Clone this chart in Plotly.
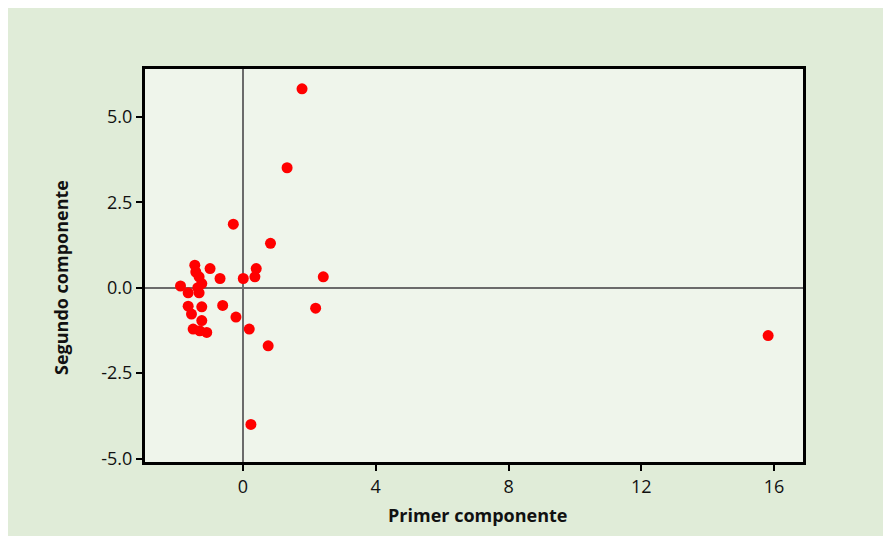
import plotly.graph_objects as go

x_vals = [1.78, 1.33, -0.29, 0.83, -1.45, -0.99, -1.42, -1.32, -0.69, -1.24,
          -1.88, -1.65, -1.32, 0.01, 0.36, 0.40, 2.42, 2.19, -1.65, -1.24,
          -0.61, -1.55, -1.24, -0.21, -1.50, -1.30, -1.09, 0.19, 0.76, 0.24,
          15.82, -1.36]
y_vals = [5.82, 3.51, 1.86, 1.30, 0.66, 0.56, 0.46, 0.32, 0.27, 0.12,
          0.05, -0.15, -0.15, 0.27, 0.32, 0.56, 0.32, -0.60, -0.54, -0.56,
          -0.52, -0.77, -0.96, -0.86, -1.21, -1.26, -1.31, -1.21, -1.70, -4.00,
          -1.40, 0.0]

x_ticks = [0, 4, 8, 12, 16]
y_ticks = [-5.0, -2.5, 0.0, 2.5, 5.0]
x_title = "Primer componente"
y_title = "Segundo componente"

# page body adds an 8px white margin, which matches the white strip of the reference
OFF = 8
W, H = 891 - OFF, 536 - OFF
L, R, T, B = 145 - OFF, 88, 69 - OFF, 74
pw, ph = W - L - R, H - T - B

def px_x(p):
    return (p - OFF - L) / pw

def px_y(p):
    return (H - B - (p - OFF)) / ph

fig = go.Figure()
fig.add_trace(go.Scatter(
    x=x_vals, y=y_vals, mode="markers",
    marker=dict(symbol="circle", size=11, color="#ff0000", line=dict(width=0)),
    showlegend=False, hoverinfo="x+y",
))

fig.update_layout(
    width=W, height=H,
    margin=dict(l=L, r=R, t=T, b=B),
    paper_bgcolor="#e0ecd8",
    plot_bgcolor="#eff5eb",
    font=dict(family="Open Sans", color="#111111"),
    xaxis=dict(
        range=[-2.95, 16.87], tickvals=x_ticks, ticktext=[str(v) for v in x_ticks],
        showgrid=False, zeroline=True, zerolinecolor="#6b6b6b", zerolinewidth=2,
        showline=True, linecolor="black", linewidth=3, mirror=True,
        ticks="outside", ticklen=6, tickwidth=2, tickcolor="black",
        tickfont=dict(size=18, family="Open Sans", color="#111111"),
    ),
    yaxis=dict(
        range=[-5.1, 6.4], tickvals=y_ticks, ticktext=[f"{v:.1f}" for v in y_ticks],
        showgrid=False, zeroline=True, zerolinecolor="#6b6b6b", zerolinewidth=2,
        showline=True, linecolor="black", linewidth=3, mirror=True,
        ticks="outside", ticklen=6, tickwidth=2, tickcolor="black",
        tickfont=dict(size=18, family="Open Sans", color="#111111"),
    ),
    annotations=[
        dict(text=f"<b>{x_title}</b>", xref="paper", yref="paper",
             x=px_x(477), y=px_y(515), xanchor="center", yanchor="middle",
             showarrow=False,
             font=dict(size=18, family="Open Sans", color="#111111")),
        dict(text=f"<b>{y_title}</b>", xref="paper", yref="paper",
             x=px_x(61), y=px_y(278), xanchor="center", yanchor="middle",
             showarrow=False, textangle=-90,
             font=dict(size=18, family="Open Sans", color="#111111")),
    ],
)

fig.write_html("out.html")
